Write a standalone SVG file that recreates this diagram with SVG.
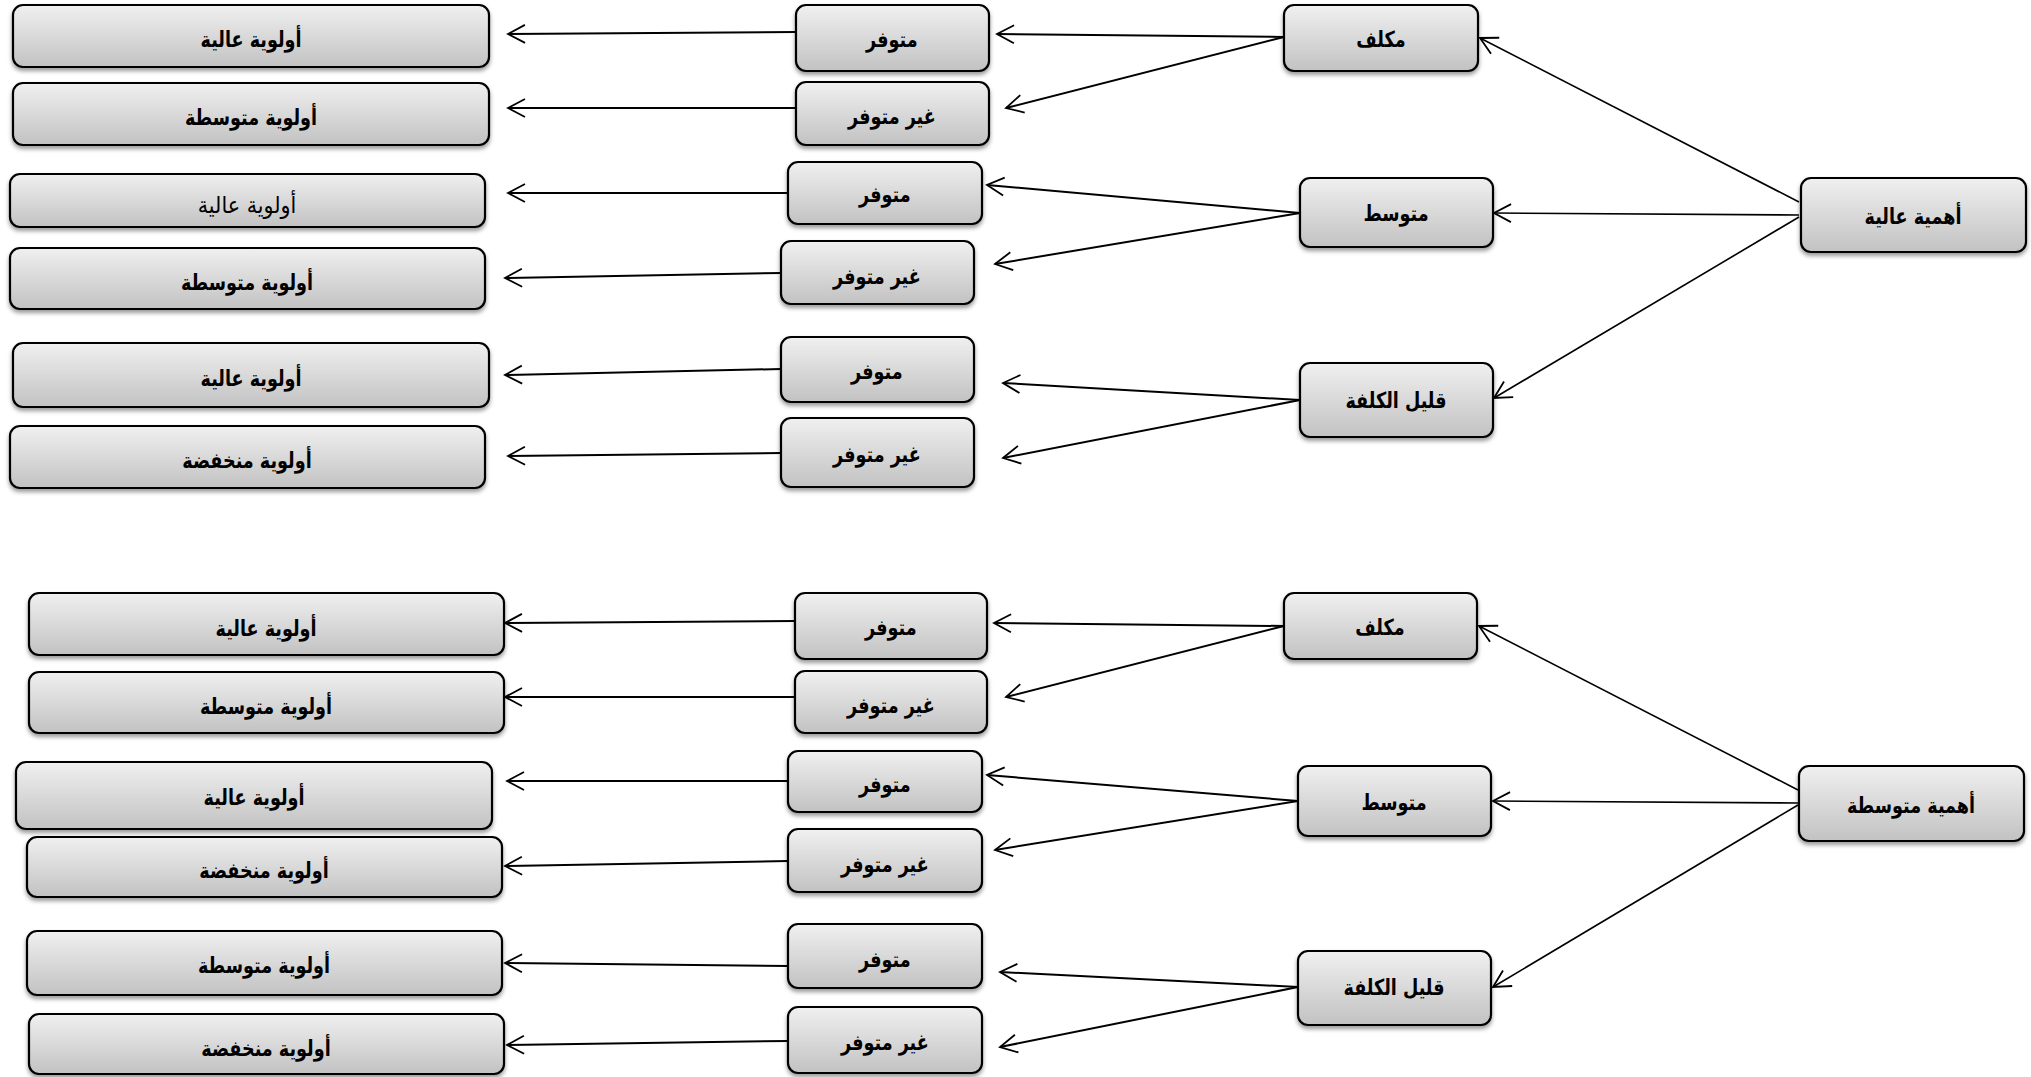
<svg xmlns="http://www.w3.org/2000/svg" width="2031" height="1077" viewBox="0 0 2031 1077">
<defs>
<linearGradient id="g" x1="0" y1="0" x2="0" y2="1">
<stop offset="0" stop-color="#f0f0f0"/>
<stop offset="1" stop-color="#c2c2c2"/>
</linearGradient>
<filter id="sh" x="-10%" y="-20%" width="120%" height="150%">
<feDropShadow dx="0" dy="3" stdDeviation="2" flood-color="#000" flood-opacity="0.4"/>
</filter>
<marker id="ar" markerUnits="userSpaceOnUse" viewBox="-22 -12 26 24" refX="0" refY="0" markerWidth="26" markerHeight="24" orient="auto">
<path d="M-17,-9 L0,0 L-17,9" fill="none" stroke="#000" stroke-width="1.8"/>
</marker>
</defs>
<style>
.b{fill:url(#g);stroke:#000;stroke-width:2.2;filter:url(#sh)}
.t{font-family:"DejaVu Sans","Noto Sans",sans-serif;font-weight:bold;font-size:22px;text-anchor:middle;dominant-baseline:central;fill:#000;transform-box:fill-box;transform-origin:center;transform:scaleX(0.8)}
.tn{font-weight:normal;font-size:23px;transform:scaleX(0.9)}
.c line{stroke:#000;stroke-width:2;fill:none;marker-end:url(#ar)}
.c line.thin{stroke-width:1.6}
</style>

<!-- top tree -->
<g id="imp-high"><rect class="b" x="1801" y="178" width="225" height="74" rx="10"/><text class="t" x="1913" y="217">أهمية عالية</text></g>
<g id="t-cost-high"><rect class="b" x="1284" y="5" width="194" height="66" rx="10"/><text class="t" x="1381" y="40">مكلف</text></g>
<g id="t-cost-mid"><rect class="b" x="1300" y="178" width="193" height="69" rx="10"/><text class="t" x="1396" y="214">متوسط</text></g>
<g id="t-cost-low"><rect class="b" x="1300" y="363" width="193" height="74" rx="10"/><text class="t" x="1396" y="401">قليل الكلفة</text></g>
<g id="t-m1"><rect class="b" x="796" y="5" width="193" height="66" rx="10"/><text class="t" x="892" y="40">متوفر</text></g>
<g id="t-m2"><rect class="b" x="796" y="82" width="193" height="63" rx="10"/><text class="t" x="892" y="117">غير متوفر</text></g>
<g id="t-m3"><rect class="b" x="788" y="162" width="194" height="62" rx="10"/><text class="t" x="885" y="195">متوفر</text></g>
<g id="t-m4"><rect class="b" x="781" y="241" width="193" height="63" rx="10"/><text class="t" x="877" y="277">غير متوفر</text></g>
<g id="t-m5"><rect class="b" x="781" y="337" width="193" height="65" rx="10"/><text class="t" x="877" y="372">متوفر</text></g>
<g id="t-m6"><rect class="b" x="781" y="418" width="193" height="69" rx="10"/><text class="t" x="877" y="455">غير متوفر</text></g>
<g id="t-p1"><rect class="b" x="13" y="5" width="476" height="62" rx="10"/><text class="t" x="251" y="40">أولوية عالية</text></g>
<g id="t-p2"><rect class="b" x="13" y="83" width="476" height="62" rx="10"/><text class="t" x="251" y="118">أولوية متوسطة</text></g>
<g id="t-p3"><rect class="b" x="10" y="174" width="475" height="53" rx="10"/><text class="t tn" x="247" y="205">أولوية عالية</text></g>
<g id="t-p4"><rect class="b" x="10" y="248" width="475" height="61" rx="10"/><text class="t" x="247" y="283">أولوية متوسطة</text></g>
<g id="t-p5"><rect class="b" x="13" y="343" width="476" height="64" rx="10"/><text class="t" x="251" y="379">أولوية عالية</text></g>
<g id="t-p6"><rect class="b" x="10" y="426" width="475" height="62" rx="10"/><text class="t" x="247" y="461">أولوية منخفضة</text></g>

<!-- bottom tree -->
<g id="imp-mid"><rect class="b" x="1799" y="766" width="225" height="75" rx="10"/><text class="t" x="1911" y="806">أهمية  متوسطة</text></g>
<g id="b-cost-high"><rect class="b" x="1284" y="593" width="193" height="66" rx="10"/><text class="t" x="1380" y="628">مكلف</text></g>
<g id="b-cost-mid"><rect class="b" x="1298" y="766" width="193" height="70" rx="10"/><text class="t" x="1394" y="803">متوسط</text></g>
<g id="b-cost-low"><rect class="b" x="1298" y="951" width="193" height="74" rx="10"/><text class="t" x="1394" y="988">قليل الكلفة</text></g>
<g id="b-m1"><rect class="b" x="795" y="593" width="192" height="66" rx="10"/><text class="t" x="891" y="628">متوفر</text></g>
<g id="b-m2"><rect class="b" x="795" y="671" width="192" height="62" rx="10"/><text class="t" x="891" y="706">غير متوفر</text></g>
<g id="b-m3"><rect class="b" x="788" y="751" width="194" height="61" rx="10"/><text class="t" x="885" y="785">متوفر</text></g>
<g id="b-m4"><rect class="b" x="788" y="829" width="194" height="63" rx="10"/><text class="t" x="885" y="865">غير متوفر</text></g>
<g id="b-m5"><rect class="b" x="788" y="924" width="194" height="64" rx="10"/><text class="t" x="885" y="960">متوفر</text></g>
<g id="b-m6"><rect class="b" x="788" y="1007" width="194" height="66" rx="10"/><text class="t" x="885" y="1043">غير متوفر</text></g>
<g id="b-p1"><rect class="b" x="29" y="593" width="475" height="62" rx="10"/><text class="t" x="266" y="629">أولوية عالية</text></g>
<g id="b-p2"><rect class="b" x="29" y="672" width="475" height="61" rx="10"/><text class="t" x="266" y="707">أولوية متوسطة</text></g>
<g id="b-p3"><rect class="b" x="16" y="762" width="476" height="67" rx="10"/><text class="t" x="254" y="798">أولوية عالية</text></g>
<g id="b-p4"><rect class="b" x="27" y="837" width="475" height="60" rx="10"/><text class="t" x="264" y="871">أولوية منخفضة</text></g>
<g id="b-p5"><rect class="b" x="27" y="931" width="475" height="64" rx="10"/><text class="t" x="264" y="966">أولوية متوسطة</text></g>
<g id="b-p6"><rect class="b" x="29" y="1014" width="475" height="60" rx="10"/><text class="t" x="266" y="1049">أولوية  منخفضة</text></g>

<g id="connectors" class="c">
<!-- top -->
<line x1="796" y1="32" x2="508" y2="34"/>
<line x1="796" y1="108" x2="508" y2="108"/>
<line x1="788" y1="193" x2="508" y2="193"/>
<line x1="781" y1="273" x2="505" y2="278"/>
<line x1="781" y1="369" x2="505" y2="375"/>
<line x1="781" y1="453" x2="508" y2="456"/>
<line x1="1284" y1="37" x2="997" y2="34"/>
<line x1="1284" y1="37" x2="1006" y2="108"/>
<line x1="1300" y1="213" x2="987" y2="185"/>
<line x1="1300" y1="213" x2="995" y2="264"/>
<line x1="1300" y1="400" x2="1003" y2="383"/>
<line x1="1300" y1="400" x2="1003" y2="458"/>
<line class="thin" x1="1799" y1="202" x2="1480" y2="38"/>
<line class="thin" x1="1799" y1="215" x2="1494" y2="213"/>
<line class="thin" x1="1799" y1="217" x2="1494" y2="398"/>
<!-- bottom -->
<line x1="795" y1="621" x2="505" y2="623"/>
<line x1="795" y1="697" x2="505" y2="697"/>
<line x1="788" y1="781" x2="507" y2="781"/>
<line x1="788" y1="861" x2="505" y2="866"/>
<line x1="788" y1="966" x2="505" y2="963"/>
<line x1="788" y1="1041" x2="507" y2="1045"/>
<line x1="1284" y1="626" x2="994" y2="623"/>
<line x1="1284" y1="626" x2="1006" y2="697"/>
<line x1="1298" y1="801" x2="987" y2="775"/>
<line x1="1298" y1="801" x2="995" y2="850"/>
<line x1="1298" y1="987" x2="1000" y2="972"/>
<line x1="1298" y1="987" x2="1000" y2="1047"/>
<line class="thin" x1="1798" y1="790" x2="1479" y2="626"/>
<line class="thin" x1="1798" y1="803" x2="1493" y2="801"/>
<line class="thin" x1="1798" y1="805" x2="1493" y2="987"/>
</g>
</svg>
